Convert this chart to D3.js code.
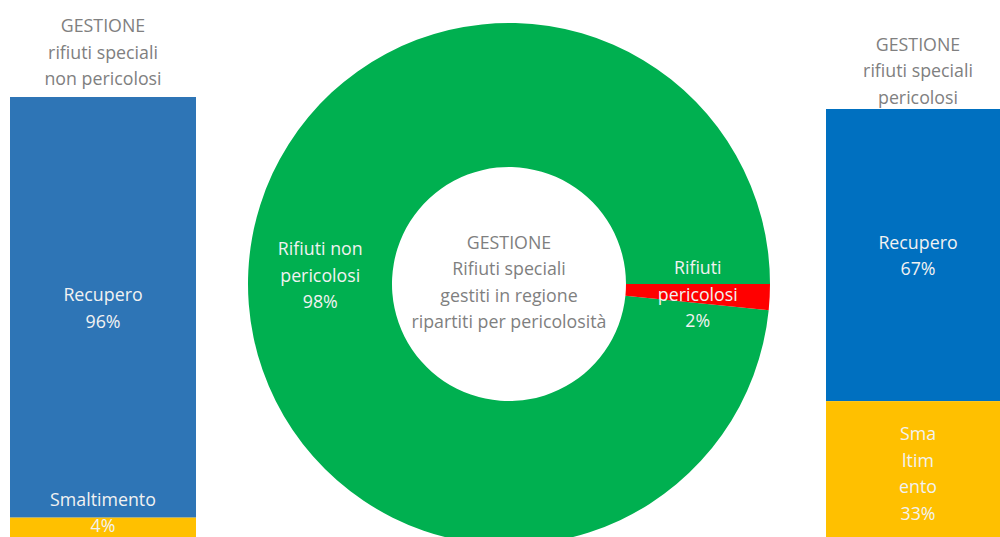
<!DOCTYPE html>
<html>
<head>
<meta charset="utf-8">
<script src="https://cdn.jsdelivr.net/npm/d3@7"></script>
<style>
  html, body { margin: 0; padding: 0; background: #ffffff; }
  svg { display: block; }
  text { font-family: "Open Sans", sans-serif; }
</style>
</head>
<body>
<svg id="chart" width="1000" height="537"></svg>
<script>
// ---- Data ----
const pieCategories = ["Rifiuti pericolosi", "Rifiuti non pericolosi"];
const pieValues = [1.6, 98.4];
const pieLabelLines = [["Rifiuti", "pericolosi"], ["Rifiuti non", "pericolosi"]];
const centerTitle = ["GESTIONE", "Rifiuti speciali", "gestiti in regione", "ripartiti per pericolosità"];

const leftTitle = ["GESTIONE", "rifiuti speciali", "non pericolosi"];
const leftCategories = ["Recupero", "Smaltimento"];
const leftValues = [95.6, 4.4];
const leftLabelLines = [["Recupero"], ["Smaltimento"]];

const rightTitle = ["GESTIONE", "rifiuti speciali", "pericolosi"];
const rightCategories = ["Recupero", "Smaltimento"];
const rightValues = [67, 33];
const rightLabelLines = [["Recupero"], ["Sma", "ltim", "ento"]];

// ---- Styles ----
const pieColors = ["#FF0000", "#00B050"];
const leftColors = ["#2E75B6", "#FFC000"];
const rightColors = ["#0070C0", "#FFC000"];
const greyText = "#808080";
const fontSize = 17.8;
const lineH = 26.5;

const svg = d3.select("#chart");

function multiLine(g, x, yMid, lines, color) {
  const n = lines.length;
  lines.forEach((t, i) => {
    g.append("text")
      .attr("x", x)
      .attr("y", yMid + (i - (n - 1) / 2) * lineH)
      .attr("text-anchor", "middle")
      .attr("dominant-baseline", "central")
      .attr("font-size", fontSize)
      .attr("fill", color)
      .text(t);
  });
}

// ---- Donut ----
const cx = 509, cy = 284, outerR = 261, innerR = 117;
const pie = d3.pie().sort(null).value(d => d)
  .startAngle(Math.PI / 2).endAngle(Math.PI / 2 + 2 * Math.PI);
const arcs = pie(pieValues);
const arc = d3.arc().innerRadius(innerR).outerRadius(outerR);
const gPie = svg.append("g").attr("transform", `translate(${cx},${cy})`);
gPie.selectAll("path").data(arcs).join("path")
  .attr("d", arc)
  .attr("fill", (d, i) => pieColors[i]);
gPie.select("path").raise();

arcs.forEach((a, i) => {
  const [x, y] = arc.centroid(a);
  multiLine(gPie, x, y, pieLabelLines[i].concat([Math.round(pieValues[i]) + "%"]), "#F2F2F2");
});
multiLine(svg, cx, 281.5, centerTitle, "#7F7F7F");

// ---- Stacked 100% bars ----
function stackedBar(opts) {
  const { x0, x1, top, bottom, values, colors, labels, title, titleX, titleY } = opts;
  const total = d3.sum(values);
  const y = d3.scaleLinear().domain([0, total]).range([top, bottom]);
  const cum = d3.cumsum(values);
  const segs = values.map((v, i) => ({ v, i, start: cum[i] - v, end: cum[i] }));
  const g = svg.append("g");
  g.selectAll("rect").data(segs).join("rect")
    .attr("x", x0)
    .attr("width", x1 - x0)
    .attr("y", d => y(d.start))
    .attr("height", d => y(d.end) - y(d.start))
    .attr("fill", d => colors[d.i]);
  segs.forEach(d => {
    const lines = labels[d.i].concat([Math.round(d.v) + "%"]);
    let mid = (y(d.start) + y(d.end)) / 2;
    const maxMid = Math.min(bottom, 537) - (lines.length - 1) / 2 * lineH - 12;
    mid = Math.min(mid, maxMid);
    multiLine(g, (x0 + x1) / 2, mid, lines, "#F2F2F2");
  });
  multiLine(svg, titleX, titleY, title, greyText);
}

stackedBar({
  x0: 10, x1: 196, top: 97, bottom: 537,
  values: leftValues, colors: leftColors, labels: leftLabelLines,
  title: leftTitle, titleX: 103, titleY: 51.5
});

stackedBar({
  x0: 826, x1: 1010, top: 109, bottom: 545,
  values: rightValues, colors: rightColors, labels: rightLabelLines,
  title: rightTitle, titleX: 918, titleY: 70
});
</script>
</body>
</html>
